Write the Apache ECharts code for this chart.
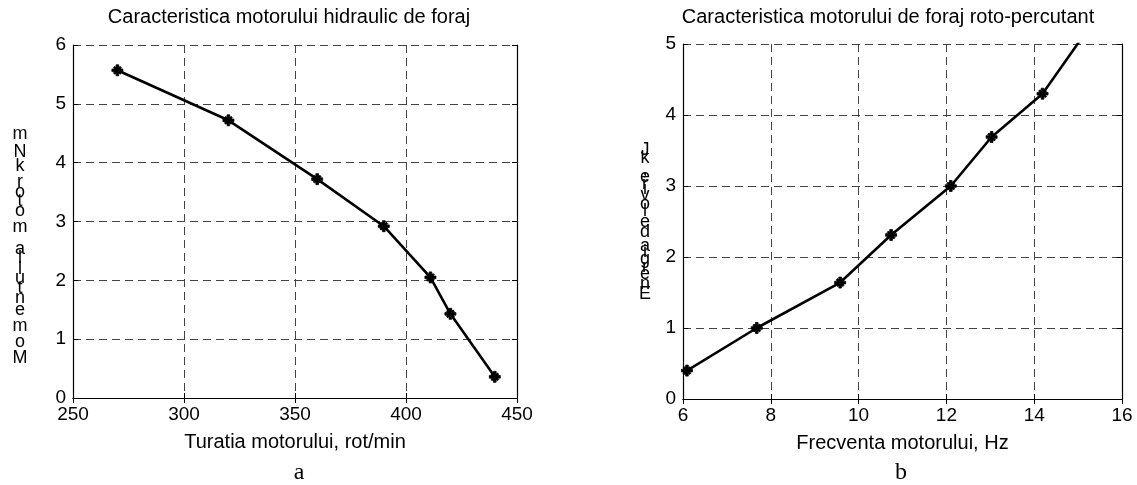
<!DOCTYPE html>
<html>
<head>
<meta charset="utf-8">
<script src="https://cdn.jsdelivr.net/npm/echarts@6/dist/echarts.min.js"></script>
<style>
html,body{margin:0;padding:0;background:#fff;}
#c{width:1137px;height:485px;}
</style>
</head>
<body>
<div id="c"></div>
<script>
// ---- Data ----
const turatie = [270, 320, 360, 390, 411, 420, 440];
const moment = [5.57, 4.72, 3.72, 2.92, 2.05, 1.43, 0.36];
const frecventa = [6.09, 7.68, 9.58, 10.74, 12.1, 13.03, 14.19, 15.5];
const energie = [0.40, 1.00, 1.64, 2.31, 3.00, 3.69, 4.30, 5.45];
const markerShown = [true, true, true, true, true, true, true, false];

const titleA = 'Caracteristica motorului hidraulic de foraj';
const titleB = 'Caracteristica motorului de foraj roto-percutant';
const xNameA = 'Turatia motorului, rot/min';
const xNameB = 'Frecventa motorului, Hz';
const yNameA = 'Momentul la motor kNm';
const yNameB = 'Energia de lovire, kJ';
const panelA = 'a';
const panelB = 'b';

const FONT = '"Liberation Sans", Arial, Helvetica, sans-serif';
const SERIF = '"Liberation Serif", "Times New Roman", serif';

const star = 'path://M-1.2,-5H1.2V-1.2H5V1.2H1.2V5H-1.2V1.2H-5V-1.2H-1.2Z' +
  'M-3.6,-2.4L-2.4,-3.6L3.6,2.4L2.4,3.6Z' +
  'M2.4,-3.6L3.6,-2.4L-2.4,3.6L-3.6,2.4Z';

const gridLine = {show: true, lineStyle: {color: '#444', width: 1, type: [8, 5]}};
const axLine = {show: true, lineStyle: {color: '#000', width: 1.2}};
const tick = {show: true, inside: true, length: 5, lineStyle: {color: '#000', width: 1}};
const lbl = {color: '#000', fontSize: 19, fontFamily: FONT};

function mainX(grid, min, max, interval, name) {
  return {type: 'value', gridIndex: grid, min, max, interval, position: 'bottom',
    axisLine: axLine, axisTick: tick, splitLine: gridLine,
    axisLabel: Object.assign({margin: 7}, lbl),
    name, nameLocation: 'middle', nameGap: 34,
    nameTextStyle: {color: '#000', fontSize: 20, fontFamily: FONT}};
}
function topX(grid, min, max, interval) {
  return {type: 'value', gridIndex: grid, min, max, interval, position: 'top',
    axisLine: axLine, axisTick: tick, splitLine: {show: false}, axisLabel: {show: false}};
}
function mainY(grid, min, max, interval) {
  return {type: 'value', gridIndex: grid, min, max, interval, position: 'left',
    axisLine: axLine, axisTick: tick, splitLine: gridLine,
    axisLabel: Object.assign({margin: 7}, lbl)};
}
function rightY(grid, min, max, interval) {
  return {type: 'value', gridIndex: grid, min, max, interval, position: 'right',
    axisLine: axLine, axisTick: tick, splitLine: {show: false}, axisLabel: {show: false}};
}

// vertical stacked upright characters (bottom to top)
const measCtx = document.createElement('canvas').getContext('2d');
function verticalChars(str, x, yBottom, yTop, size) {
  measCtx.font = size + 'px ' + FONT;
  const centers = [];
  let acc = 0;
  for (const ch of str) {
    const w = measCtx.measureText(ch).width;
    centers.push(acc + w / 2);
    acc += w;
  }
  const c0 = centers[0], c1 = centers[centers.length - 1];
  const out = [];
  let i = 0;
  for (const ch of str) {
    if (ch !== ' ') {
      const y = yBottom - (centers[i] - c0) / (c1 - c0) * (yBottom - yTop);
      out.push({type: 'text', x: x, y: y,
        style: {text: ch, fill: '#000', font: size + 'px ' + FONT, align: 'center', verticalAlign: 'middle'}});
    }
    i++;
  }
  return out;
}

function toPairs(xs, ys) { return xs.map((v, i) => [v, ys[i]]); }

const chart = echarts.init(document.getElementById('c'), null, {renderer: 'canvas'});
const graphics = [
  {type: 'text', x: 289, y: 17, style: {text: titleA, fill: '#000', font: '20px ' + FONT, align: 'center', verticalAlign: 'middle'}},
  {type: 'text', x: 888, y: 17, style: {text: titleB, fill: '#000', font: '20px ' + FONT, align: 'center', verticalAlign: 'middle'}},
  {type: 'text', x: 299, y: 473, style: {text: panelA, fill: '#000', font: '24px ' + SERIF, align: 'center', verticalAlign: 'middle'}},
  {type: 'text', x: 901, y: 473, style: {text: panelB, fill: '#000', font: '24px ' + SERIF, align: 'center', verticalAlign: 'middle'}}
].concat(verticalChars(yNameA, 20, 358, 134, 18))
 .concat(verticalChars(yNameB, 645, 294, 150, 18));

chart.setOption({
  backgroundColor: '#fff',
  animation: false,
  grid: [
    {left: 73, top: 45, width: 444, height: 353, show: false},
    {left: 683, top: 44, width: 439, height: 355, show: false}
  ],
  xAxis: [
    mainX(0, 250, 450, 50, xNameA), topX(0, 250, 450, 50),
    mainX(1, 6, 16, 2, xNameB), topX(1, 6, 16, 2)
  ],
  yAxis: [
    mainY(0, 0, 6, 1), rightY(0, 0, 6, 1),
    mainY(1, 0, 5, 1), rightY(1, 0, 5, 1)
  ],
  series: [
    {type: 'line', xAxisIndex: 0, yAxisIndex: 0, data: toPairs(turatie, moment),
      symbol: star, symbolSize: 11, showAllSymbol: true,
      lineStyle: {color: '#000', width: 2.6},
      itemStyle: {color: '#000', borderColor: '#000', borderWidth: 0.8}, clip: true},
    {type: 'line', xAxisIndex: 2, yAxisIndex: 2,
      data: frecventa.map((v, i) => ({value: [v, energie[i]], symbol: markerShown[i] ? star : 'none'})),
      symbol: star, symbolSize: 11, showAllSymbol: true,
      lineStyle: {color: '#000', width: 2.6},
      itemStyle: {color: '#000', borderColor: '#000', borderWidth: 0.8}, clip: true}
  ],
  graphic: graphics
});
</script>
</body>
</html>
